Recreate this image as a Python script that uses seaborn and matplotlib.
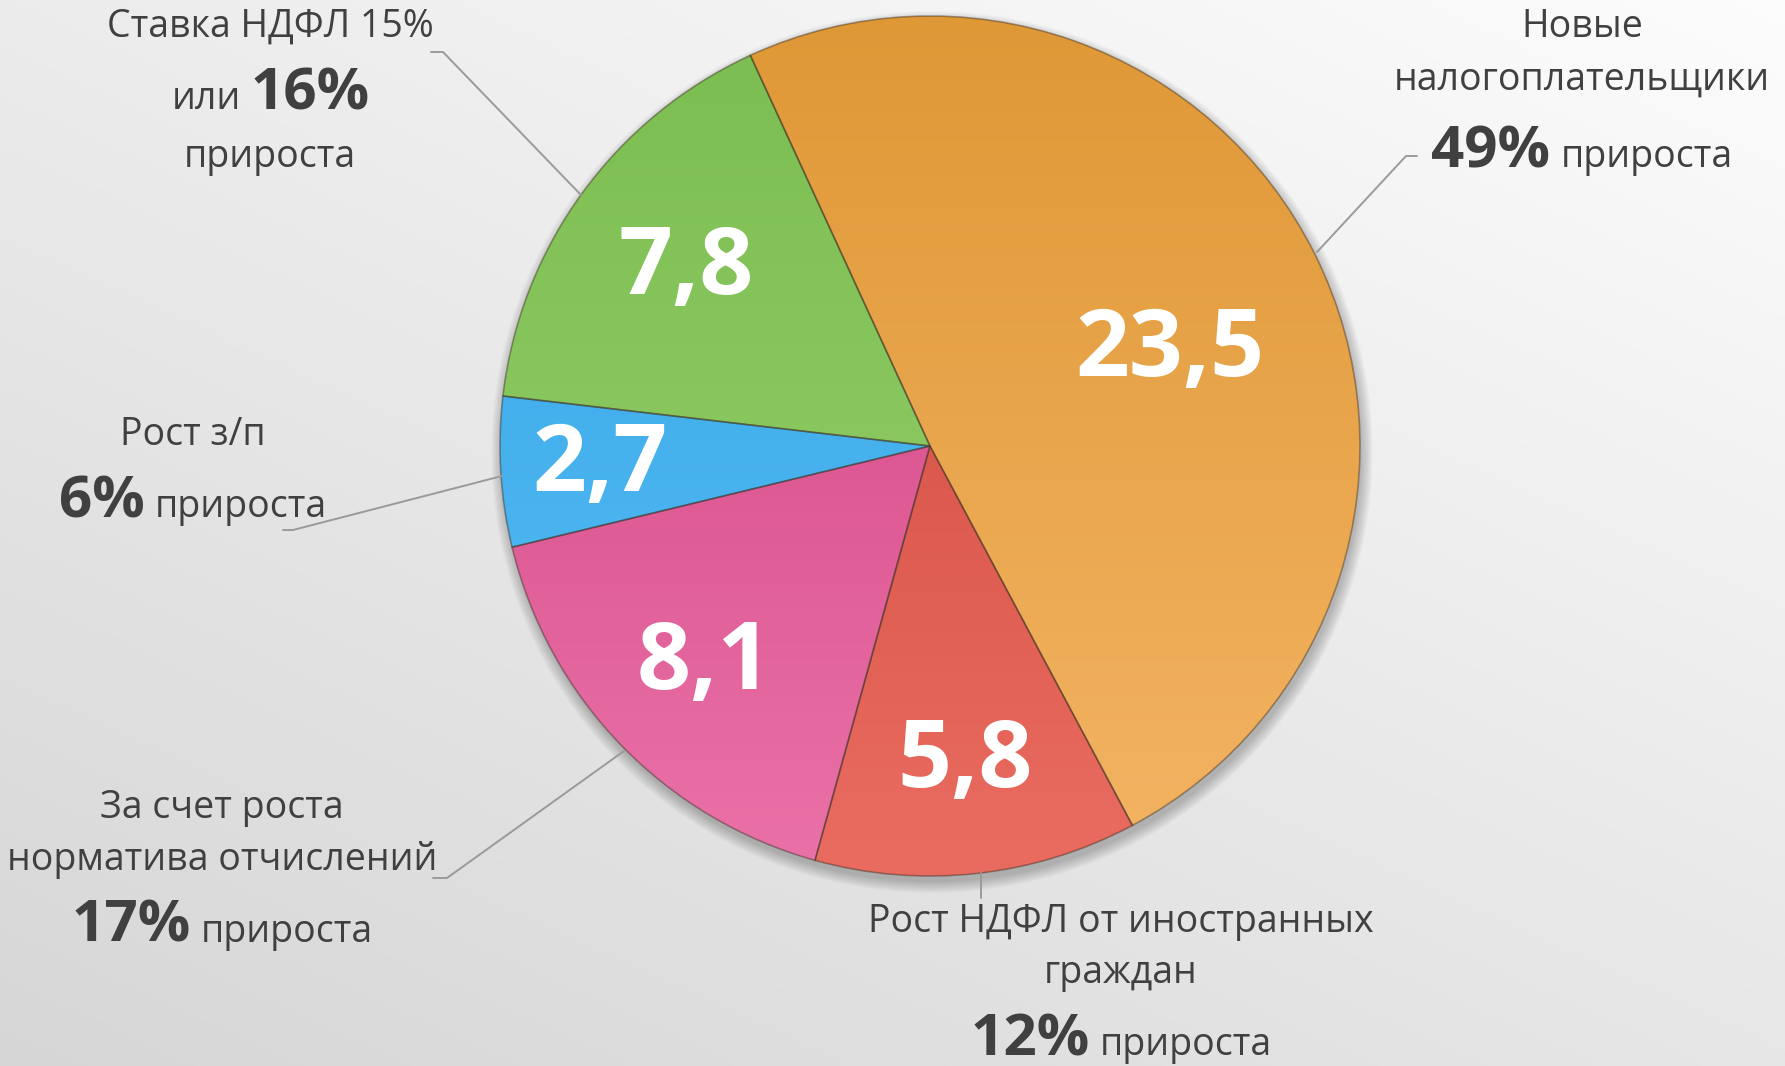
import numpy as np
import matplotlib
matplotlib.use("Agg")
import matplotlib.pyplot as plt
import seaborn as sns
from matplotlib.patches import Circle, Wedge
from matplotlib.colors import to_rgba

# ---- data ----
categories = ["Новые налогоплательщики", "Рост НДФЛ от иностранных граждан",
              "За счет роста норматива отчислений", "Рост з/п", "Ставка НДФЛ 15%"]
values = [23.5, 5.8, 8.1, 2.7, 7.8]
value_labels = ["23,5", "5,8", "8,1", "2,7", "7,8"]
growth_pct = ["49%", "12%", "17%", "6%", "16%"]
top_colors = ["#DF9836", "#CC4538", "#D03E7E", "#33A3E4", "#7BBD50"]
bottom_colors = ["#F4B464", "#EA6C60", "#EA72A8", "#58BFF6", "#98D26E"]
label_radius = [0.60, 0.74, 0.73, 0.77, 0.70]
label_angle_shift = [-5, 0, 0, 0, 0]

sns.set_theme(style="white")
plt.rcParams['font.family'] = ['Open Sans', 'DejaVu Sans']

W, H = 1785, 1066
TXT = "#404040"
fig = plt.figure(figsize=(W / 100, H / 100), dpi=100)

# background gradient
bg = fig.add_axes([0, 0, 1, 1])
bg.axis("off")
yy, xx = np.mgrid[0:1:300j, 0:1:500j]
val = 0.84 + 0.085 * (1 - yy) + 0.065 * xx
val = np.clip(val, 0, 1)
bg.imshow(np.dstack([val, val, val]), aspect="auto", extent=(0, 1, 0, 1), origin="upper")
bg.set_xlim(0, 1); bg.set_ylim(0, 1)

ax = fig.add_axes([0, 0, 1, 1])
ax.patch.set_alpha(0)
cx, cy, R = 930, 1066 - 446, 430

# soft shadow
for i in range(10):
    ax.add_patch(Circle((cx + 2, cy - 6), R + i * 1.2, color="black", alpha=0.025, zorder=0, lw=0))

wedges, _ = ax.pie(values, colors=bottom_colors, startangle=114.7, counterclock=False,
                   center=(cx, cy), radius=R,
                   wedgeprops=dict(edgecolor="none", linewidth=0))

for w, c1, c2 in zip(wedges, top_colors, bottom_colors):
    w.set_zorder(1)
    a = np.array(to_rgba(c1)); b = np.array(to_rgba(c2))
    t = np.linspace(0, 1, 256)[:, None, None]
    grad = a[None, None, :] * (1 - t) + b[None, None, :] * t
    im = ax.imshow(grad, extent=(cx - R, cx + R, cy - R, cy + R), origin="upper",
                   aspect="auto", zorder=2, interpolation="bilinear")
    im.set_clip_path(w)
    edge = Wedge(w.center, w.r, w.theta1, w.theta2, facecolor="none",
                 edgecolor=(0.25, 0.2, 0.15, 0.45), linewidth=1.2, zorder=3)
    ax.add_patch(edge)

# value labels inside
for w, lab, rf, sh in zip(wedges, value_labels, label_radius, label_angle_shift):
    ang = np.deg2rad((w.theta1 + w.theta2) / 2 + sh)
    x = cx + rf * R * np.cos(ang)
    y = cy + rf * R * np.sin(ang)
    ax.text(x, y, lab, color="white", fontsize=68, fontweight="bold",
            ha="center", va="center", zorder=6)

renderer = fig.canvas.get_renderer()
FS = 27


def line(xc, yb, s, fs=FS):
    ax.text(xc, H - yb, s, fontsize=fs, color=TXT, ha="center", va="baseline", zorder=6)


def mixed(xc, yb, parts, gap=10):
    txts = []
    for s, fs, fw in parts:
        txts.append(ax.text(0, H - yb, s, fontsize=fs, fontweight=fw, color=TXT,
                            ha="left", va="baseline", zorder=6))
    widths = [t.get_window_extent(renderer).width for t in txts]
    total = sum(widths) + gap * (len(txts) - 1)
    x = xc - total / 2
    for t, wd in zip(txts, widths):
        t.set_x(x)
        x += wd + gap


BIG = 42
# green
line(270, 37, "Ставка НДФЛ 15%")
mixed(271, 109, [("или", FS, "normal"), (growth_pct[4], BIG, "bold")])
line(270, 167, "прироста")
# orange
line(1582, 37, "Новые")
line(1582, 90, "налогоплательщики")
mixed(1582, 167, [(growth_pct[0], BIG, "bold"), ("прироста", FS, "normal")])
# blue
line(193, 445, "Рост з/п")
mixed(193, 517, [(growth_pct[3], BIG, "bold"), ("прироста", FS, "normal")])
# pink
line(222, 818, "За счет роста")
line(222, 870, "норматива отчислений")
mixed(222, 942, [(growth_pct[2], BIG, "bold"), ("прироста", FS, "normal")])
# red
line(1121, 932, "Рост НДФЛ от иностранных")
line(1121, 983, "граждан")
mixed(1121, 1055, [(growth_pct[1], BIG, "bold"), ("прироста", FS, "normal")])

# leader lines (image coords converted)
LC = "#9a9a9a"
leaders = [
    [(1417, 156), (1406, 156), (1317, 252)],
    [(981, 873), (981, 898)],
    [(433, 878), (447, 878), (624, 751)],
    [(283, 530), (293, 530), (502, 476)],
    [(431, 52), (443, 52), (581, 195)],
]
for pts in leaders:
    xs = [p[0] for p in pts]; ys = [H - p[1] for p in pts]
    ax.plot(xs, ys, color=LC, lw=1.4, zorder=4)

ax.set_xlim(0, W)
ax.set_ylim(0, H)
ax.set_aspect("equal")
ax.axis("off")

fig.savefig("out.png", dpi=100)
